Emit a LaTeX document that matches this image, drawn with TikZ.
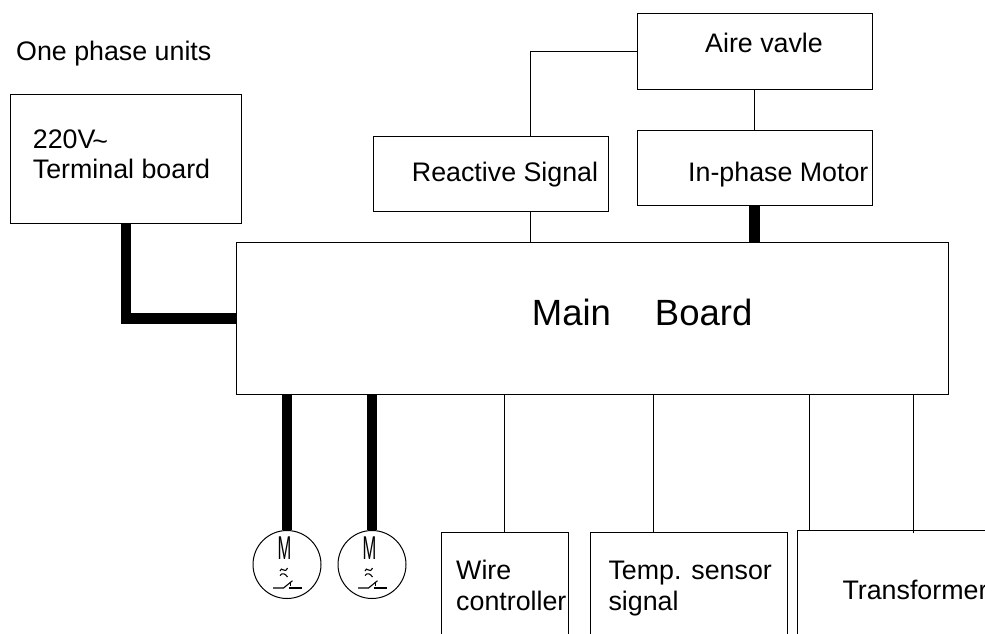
\documentclass[tikz,border=0pt]{standalone}
\usepackage{fontspec}
\setmainfont{Liberation Sans}
\begin{document}
\begin{tikzpicture}[x=1pt,y=-1pt,
  box/.style={draw, line width=1pt, inner sep=0, anchor=north west},
  wirethin/.style={line width=1pt},
  wirethick/.style={line width=10.5pt},
  lbl/.style={font=\fontsize{26.8}{30}\selectfont, inner sep=0, anchor=base west},
  motorc/.style={circle, draw, line width=1pt, minimum size=68pt, inner sep=0},
  sym/.style={line width=1.1pt}]
\useasboundingbox (0,0) rectangle (985,633);
\clip (0,0) rectangle (985,633);

% boxes
\node[box, minimum width=230.7pt, minimum height=128.7pt] (term) at (10,94) {};
\node[box, minimum width=235pt, minimum height=75pt] (react) at (373.3,136) {};
\node[box, minimum width=235pt, minimum height=75.7pt] (aire) at (636.7,13.3) {};
\node[box, minimum width=235pt, minimum height=75pt] (inph) at (636.7,130) {};
\node[box, minimum width=712.3pt, minimum height=151.7pt] (main) at (236,242.3) {};
\node[box, minimum width=127pt, minimum height=130pt] (wire) at (440.7,531.7) {};
\node[box, minimum width=196.4pt, minimum height=130pt] (temp) at (590.3,531.7) {};
\node[box, minimum width=240pt, minimum height=130pt] (trans) at (797,530) {};

% motors
\node[motorc] (m1) at (287,564.5) {};
\node[motorc] (m2) at (372,564.5) {};

% labels
\node[lbl] (title) at (16,60.7) {One phase units};
\node[lbl] (t1) at (32.7,148.3) {220V\kern-3pt\raisebox{-2pt}{\textasciitilde}};
\node[lbl] (t2) at (32.7,178.3) {Terminal board};
\node[lbl] (ra) at (411.7,181.7) {Reactive Signal};
\node[lbl] (av) at (705,52.7) {Aire vavle};
\node[lbl] (ip) at (688,181.7) {In-phase Motor};
\node[lbl] (w1) at (456,579.3) {Wire};
\node[lbl] (w2) at (456,610.3) {controller};
\node[lbl] (s1) at (608.3,579.3) {Temp. sensor};
\node[lbl] (s2) at (608.3,610.3) {signal};
\node[lbl] (tr) at (842.3,599.3) {Transformer};
\node[font=\fontsize{36.5}{40}\selectfont, inner sep=0, anchor=base west] (mb) at (531.7,325) {Main\hspace{44pt}Board};

% thin connectors
\draw[wirethin] (aire.west) -| ([xshift=157.4pt]react.north west);
\draw[wirethin] ([xshift=157.4pt]react.south west) coordinate (r1) -- (r1 |- main.north);
\draw[wirethin] (aire.south) -- (inph.north);
\draw[wirethin] ([xshift=63.3pt]wire.north west) coordinate (w0) -- (w0 |- main.south);
\draw[wirethin] ([xshift=63pt]temp.north west) coordinate (s0) -- (s0 |- main.south);
\draw[wirethin] ([xshift=12pt]trans.north west) coordinate (x0) -- (x0 |- main.south);
\draw[wirethin] ([xshift=116.3pt,yshift=-3.3pt]trans.north west) coordinate (x1) -- (x1 |- main.south);

% thick connectors
\draw[wirethick] (term.south) |- (main.west);
\draw[wirethick] (inph.south) -- (inph.south |- main.north);
\draw[wirethick] (m1.north |- main.south) -- (m1.north);
\draw[wirethick] (m2.north |- main.south) -- (m2.north);

% motor symbols
\foreach \m in {m1,m2}{
  \begin{scope}[shift={(\m.center)}]
    \node[inner sep=0, anchor=base, font=\fontsize{33}{33}\selectfont] at (-2.5,-4.6) {\scalebox{0.5}[1]{M}};
    \draw[sym] (-7,6.5) .. controls (-5.5,1) and (-2.5,10) .. (0.5,3.5);
    \draw[sym] (-7,11) .. controls (-4.5,7.5) and (-1.5,9.5) .. (0.5,12.5);
    \draw[sym] (-14,23.5) -- (-3.5,23.5) -- (5.5,16.2);
    \draw[sym] (1.5,23.5) -- (14.5,23.5);
    \draw[sym] (3.5,17) -- (3.5,21);
  \end{scope}
}
\end{tikzpicture}
\end{document}
